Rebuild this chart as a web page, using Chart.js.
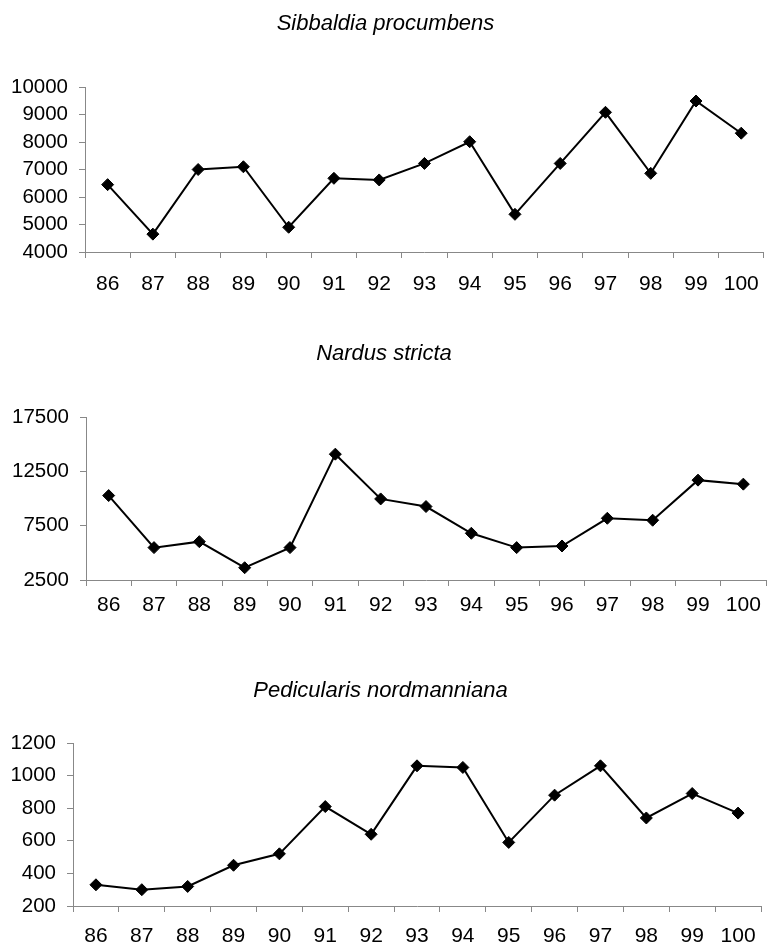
<!DOCTYPE html>
<html lang="en">
<head>
    <meta charset="UTF-8">
    <title>Sibbaldia / Nardus / Pedicularis</title>
    <script src="https://cdn.jsdelivr.net/npm/chart.js"></script>
    <style>
        body { margin: 0; background: #fff; }
        .box { position: absolute; left: 0; width: 773px; }
        canvas { display: block; }
    </style>
</head>
<body>
    <div class="box" style="top:0; height:315px;"><canvas id="c1"></canvas></div>
    <div class="box" style="top:315px; height:315px;"><canvas id="c2"></canvas></div>
    <div class="box" style="top:630px; height:317px;"><canvas id="c3"></canvas></div>
    <script>
        const years = ['86', '87', '88', '89', '90', '91', '92', '93', '94', '95', '96', '97', '98', '99', '100'];

        const sibbaldia = [6450, 4650, 7000, 7100, 4900, 6680, 6620, 7220, 8010, 5370, 7220, 9080, 6860, 9490, 8320];
        const nardus = [10270, 5480, 6030, 3630, 5480, 14080, 9960, 9260, 6800, 5480, 5630, 8180, 8000, 11690, 11320];
        const pedicularis = [330, 300, 320, 450, 520, 810, 640, 1060, 1050, 590, 880, 1060, 740, 890, 770];

        const axisGray = '#888888';
        const fontFamily = '"Liberation Sans", Arial, sans-serif';

        // one small chart per species, geometry tuned to the reference
        function makeChart(id, title, values, yMin, yMax, yStep, g) {
            const h = g.height;
            return new Chart(document.getElementById(id), {
                type: 'line',
                data: {
                    labels: years,
                    datasets: [{
                        data: values,
                        borderColor: '#000',
                        borderWidth: 2,
                        pointStyle: 'rectRot',
                        pointRadius: 6,
                        pointBorderWidth: 1,
                        pointBackgroundColor: '#000',
                        pointBorderColor: '#000',
                        tension: 0
                    }]
                },
                options: {
                    responsive: true,
                    maintainAspectRatio: false,
                    animation: false,
                    layout: { padding: { left: 0, right: g.right, top: 0, bottom: 0 } },
                    plugins: {
                        legend: { display: false },
                        tooltip: { enabled: false },
                        title: {
                            display: true,
                            text: title,
                            color: '#000',
                            font: { family: fontFamily, size: 22, style: 'italic', weight: 'normal', lineHeight: 1.2 },
                            padding: { top: g.titleTop, bottom: g.top - g.titleTop - 26.4 }
                        }
                    },
                    scales: {
                        x: {
                            offset: true,
                            grid: { drawOnChartArea: false, drawTicks: true, tickLength: 6, offset: true, color: axisGray },
                            border: { color: axisGray, width: 1 },
                            ticks: { color: '#000', padding: g.xPad, maxRotation: 0, autoSkip: false,
                                     font: { family: fontFamily, size: 21 } },
                            afterFit: (s) => { s.height = h - g.bottom; }
                        },
                        y: {
                            min: yMin,
                            max: yMax,
                            grid: { drawOnChartArea: false, drawTicks: true, tickLength: 6, color: axisGray },
                            border: { color: axisGray, width: 1 },
                            ticks: { stepSize: yStep, color: '#000', padding: 11, autoSkip: false,
                                     font: { family: fontFamily, size: 20.5 },
                                     callback: (v) => String(v) },
                            afterFit: (s) => { s.width = g.left; }
                        }
                    }
                }
            });
        }

        makeChart('c1', 'Sibbaldia procumbens', sibbaldia, 4000, 10000, 1000,
            { height: 315, left: 85, right: 2, top: 87, bottom: 252, titleTop: 11, xPad: 14 });
        makeChart('c2', 'Nardus stricta', nardus, 2500, 17500, 5000,
            { height: 315, left: 86, right: 5, top: 102, bottom: 265, titleTop: 26, xPad: 7 });
        makeChart('c3', 'Pedicularis nordmanniana', pedicularis, 200, 1200, 200,
            { height: 317, left: 73, right: 12, top: 113, bottom: 276, titleTop: 48, xPad: 12 });
    </script>
</body>
</html>
